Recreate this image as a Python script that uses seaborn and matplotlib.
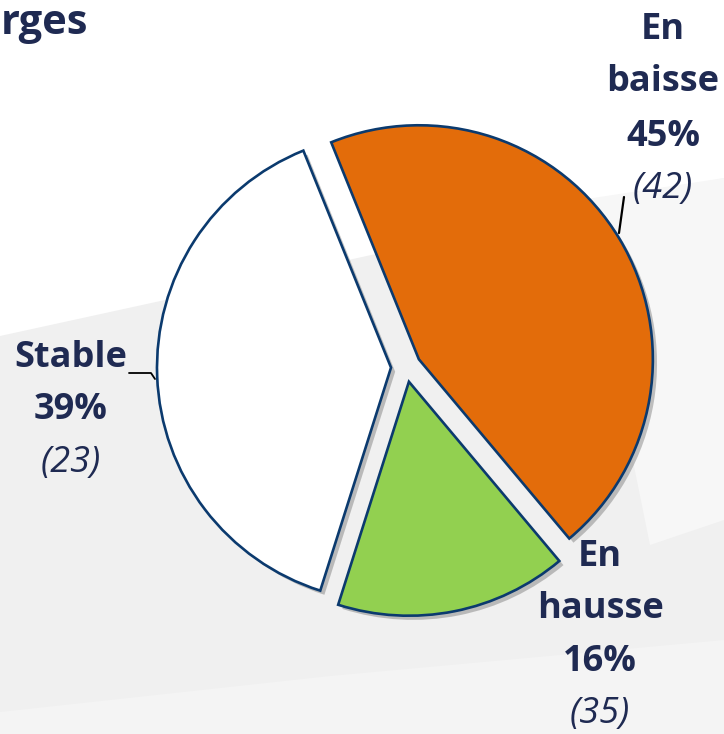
import matplotlib
matplotlib.use("Agg")
import matplotlib.pyplot as plt
import matplotlib.patheffects as pe
from matplotlib.patches import Polygon
import seaborn as sns

# ---- data ----
categories = ["En baisse", "En hausse", "Stable"]
percentages = [45, 16, 39]
counts = [42, 35, 23]
slice_colors = ["#E36C0A", "#92D050", "#FFFFFF"]
title_text = "rges"

sns.set_theme(style="white")
plt.rcParams["font.family"] = ["Open Sans", "DejaVu Sans"]

W, H = 724, 734
fig = plt.figure(figsize=(W / 100, H / 100), dpi=100)
ax = fig.add_axes([0, 0, 1, 1])
fig.patch.set_facecolor("white")

def py(y):
    return H - y

# subtle background swooshes
ax.add_patch(Polygon([(0, py(336)), (724, py(178)), (724, 0), (0, 0)],
                     closed=True, facecolor="#f0f0f0", edgecolor="none", zorder=0))
ax.add_patch(Polygon([(580, py(200)), (724, py(178)), (724, py(520)), (650, py(545))],
                     closed=True, facecolor="#f7f7f7", edgecolor="none", zorder=0.5))
ax.add_patch(Polygon([(0, py(712)), (330, py(676)), (724, py(640)), (724, 0), (0, 0)],
                     closed=True, facecolor="#f4f4f4", edgecolor="none", zorder=0.5))

cx, cy, R = 406, py(367), 234
explode = [15] * len(percentages)
wedges, _ = ax.pie(percentages, colors=slice_colors, startangle=112, counterclock=False,
                   center=(cx, cy), radius=R, explode=explode, frame=True,
                   wedgeprops=dict(edgecolor="#0b3a6e", linewidth=1.9))
for w in wedges:
    w.set_path_effects([pe.SimplePatchShadow(offset=(3, -3), shadow_rgbFace="#555555", alpha=0.35),
                        pe.Normal()])
    w.set_zorder(2)
ax.set_xlim(0, W)
ax.set_ylim(0, H)
ax.set_aspect("equal")
ax.axis("off")

navy = "#1f2a52"
fs = 26
blocks = [
    (663, [("En", 30), ("baisse", 82)], 137, 189),
    (600, [("En", 557), ("hausse", 609)], 662, 714),
    (71, [("Stable", 358)], 410, 463),
]
for (x, name_lines, yp, yc), p, c in zip(blocks, percentages, counts):
    for txt, y in name_lines:
        ax.text(x, py(y), txt, ha="center", va="center", fontsize=fs, fontweight="bold", color=navy, zorder=5)
    ax.text(x, py(yp), f"{p}%", ha="center", va="center", fontsize=fs, fontweight="bold", color=navy, zorder=5)
    ax.text(x, py(yc), f"({c})", ha="center", va="center", fontsize=fs, fontstyle="italic", color=navy, zorder=5)

# leader lines
ax.plot([129, 151, 155], [py(373), py(373), py(379)], color="black", lw=1.3, zorder=4)
ax.plot([624, 619], [py(197), py(233)], color="black", lw=1.6, zorder=4)

ax.text(1, py(23), title_text, ha="left", va="center", fontsize=30, fontweight="bold", color=navy, zorder=5)

fig.savefig("out.png", dpi=100)
